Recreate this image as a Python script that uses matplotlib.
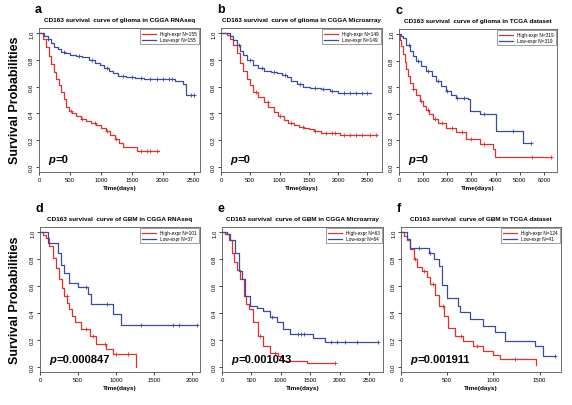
import matplotlib
matplotlib.use("Agg")
import matplotlib.pyplot as plt
import numpy as np

plt.rcParams['font.family'] = ['Liberation Sans', 'DejaVu Sans']

RED = '#e0302c'
BLUE = '#3a4a9e'

# ---- data ----
# a: glioma CGGA RNAseq
a_hi_t = [0, 60, 110, 160, 200, 240, 280, 320, 360, 400, 440, 480, 540, 600, 680, 760, 840, 920, 1000, 1080, 1150, 1220, 1290, 1360, 1580]
a_hi_s = [1.0, 0.96, 0.90, 0.83, 0.77, 0.71, 0.66, 0.61, 0.56, 0.51, 0.45, 0.42, 0.40, 0.38, 0.36, 0.34, 0.33, 0.31, 0.29, 0.27, 0.24, 0.21, 0.18, 0.15, 0.12]
a_hi_end = 1930
a_hi_cens = [520, 700, 900, 1100, 1250, 1650, 1750, 1800, 1900]
a_lo_t = [0, 80, 140, 190, 240, 300, 360, 420, 500, 600, 700, 800, 900, 980, 1050, 1130, 1200, 1280, 1400, 1550, 1700, 2200, 2330, 2380]
a_lo_s = [1.0, 0.98, 0.96, 0.93, 0.90, 0.88, 0.86, 0.85, 0.84, 0.83, 0.82, 0.80, 0.78, 0.76, 0.74, 0.72, 0.70, 0.68, 0.67, 0.665, 0.655, 0.645, 0.62, 0.535]
a_lo_end = 2500
a_lo_cens = [150, 400, 650, 850, 1100, 1350, 1500, 1650, 1800, 1900, 2000, 2100, 2150, 2450, 2500]

# b: glioma CGGA Microarray
b_hi_t = [0, 100, 160, 210, 270, 326, 380, 440, 500, 555, 640, 727, 810, 900, 980, 1070, 1150, 1240, 1330, 1413, 1500, 1585, 1700, 2040]
b_hi_s = [1.0, 0.99, 0.96, 0.91, 0.85, 0.78, 0.72, 0.66, 0.61, 0.56, 0.52, 0.485, 0.45, 0.41, 0.38, 0.35, 0.33, 0.31, 0.30, 0.29, 0.28, 0.27, 0.25, 0.235]
b_hi_end = 2670
b_hi_cens = [600, 800, 1000, 1200, 1400, 1600, 1800, 1900, 1950, 2100, 2200, 2300, 2400, 2550, 2650]
b_lo_t = [0, 155, 210, 270, 330, 383, 450, 555, 640, 727, 850, 955, 1050, 1127, 1200, 1300, 1400, 1527, 1700, 1870, 2000]
b_lo_s = [1.0, 0.98, 0.95, 0.91, 0.87, 0.835, 0.80, 0.76, 0.74, 0.72, 0.71, 0.70, 0.69, 0.67, 0.645, 0.62, 0.60, 0.59, 0.58, 0.57, 0.55]
b_lo_end = 2557
b_lo_cens = [300, 500, 700, 900, 1100, 1350, 1600, 1750, 1900, 2100, 2200, 2300, 2400, 2500]

# c: glioma TCGA
c_hi_t = [0, 50, 97, 160, 234, 300, 372, 470, 580, 700, 855, 1000, 1130, 1260, 1400, 1610, 1960, 2370, 2790, 3340, 3890, 3960]
c_hi_s = [1.0, 0.96, 0.91, 0.85, 0.79, 0.74, 0.685, 0.63, 0.585, 0.54, 0.50, 0.46, 0.43, 0.40, 0.36, 0.33, 0.295, 0.26, 0.21, 0.17, 0.13, 0.075]
c_hi_end = 6300
c_hi_cens = [600, 900, 1200, 1500, 1800, 2200, 2600, 3000, 3500, 5500, 6300]
c_lo_t = [0, 100, 165, 300, 440, 580, 717, 900, 1130, 1350, 1545, 1750, 1960, 2150, 2370, 2855, 2925, 3340, 4030, 5130]
c_lo_s = [1.0, 0.99, 0.975, 0.92, 0.875, 0.835, 0.80, 0.76, 0.72, 0.685, 0.65, 0.61, 0.57, 0.545, 0.52, 0.51, 0.42, 0.395, 0.27, 0.18]
c_lo_end = 5480
c_lo_cens = [400, 800, 1200, 1600, 2000, 2400, 2700, 3500, 4700, 5480]

# d: GBM CGGA RNAseq
d_hi_t = [0, 35, 79, 123, 167, 211, 255, 290, 321, 355, 387, 420, 453, 540, 650, 738, 870, 958, 1266]
d_hi_s = [1.0, 0.98, 0.955, 0.895, 0.81, 0.735, 0.65, 0.585, 0.525, 0.475, 0.43, 0.38, 0.33, 0.28, 0.23, 0.17, 0.13, 0.095, 0.0]
d_hi_end = 1266
d_hi_cens = [350, 600, 700, 850, 1000, 1150]
d_lo_t = [0, 101, 233, 277, 321, 387, 497, 628, 672, 958, 1068]
d_lo_s = [1.0, 0.92, 0.845, 0.76, 0.70, 0.625, 0.59, 0.54, 0.465, 0.395, 0.31]
d_lo_end = 2057
d_lo_cens = [600, 880, 1330, 1750, 1830, 2057]

# e: GBM CGGA Microarray
e_hi_t = [0, 56, 113, 169, 210, 254, 310, 367, 410, 451, 536, 621, 705, 818, 959, 1016, 1439]
e_hi_s = [1.0, 0.99, 0.945, 0.845, 0.78, 0.72, 0.65, 0.525, 0.47, 0.43, 0.33, 0.23, 0.155, 0.105, 0.08, 0.045, 0.025]
e_hi_end = 1930
e_hi_cens = [650, 900, 1930]
e_lo_t = [0, 85, 141, 226, 282, 339, 395, 480, 593, 705, 818, 931, 1044, 1157, 1552, 1749]
e_lo_s = [1.0, 0.99, 0.945, 0.845, 0.71, 0.65, 0.525, 0.45, 0.44, 0.415, 0.37, 0.33, 0.28, 0.245, 0.215, 0.185]
e_lo_end = 2652
e_lo_cens = [850, 1300, 1350, 1400, 1850, 1950, 2100, 2300, 2652]

# f: GBM TCGA
f_hi_t = [0, 29, 65, 100, 136, 172, 226, 280, 316, 370, 406, 460, 513, 585, 675, 782, 890, 998, 1070, 1457]
f_hi_s = [1.0, 0.975, 0.94, 0.875, 0.80, 0.74, 0.715, 0.665, 0.615, 0.53, 0.455, 0.38, 0.29, 0.23, 0.19, 0.155, 0.115, 0.09, 0.055, 0.01]
f_hi_end = 1457
f_hi_cens = [150, 250, 350, 450, 650, 820, 1230]
f_lo_t = [0, 65, 100, 298, 352, 406, 441, 495, 621, 639, 747, 890, 1016, 1124, 1447, 1536]
f_lo_s = [1.0, 0.95, 0.88, 0.85, 0.80, 0.75, 0.605, 0.51, 0.455, 0.405, 0.355, 0.305, 0.255, 0.19, 0.155, 0.08]
f_lo_end = 1662
f_lo_cens = [200, 310, 1662]

panels = [
    ('a', 'CD163 survival  curve of glioma in CGGA RNAseq', 155, 155, 'p=0', 2600, [0, 500, 1000, 1500, 2000, 2500],
     (a_hi_t, a_hi_s, a_hi_end, a_hi_cens), (a_lo_t, a_lo_s, a_lo_end, a_lo_cens)),
    ('b', 'CD163 survival  curve of glioma in CGGA Microarray', 149, 149, 'p=0', 2750, [0, 500, 1000, 1500, 2000, 2500],
     (b_hi_t, b_hi_s, b_hi_end, b_hi_cens), (b_lo_t, b_lo_s, b_lo_end, b_lo_cens)),
    ('c', 'CD163 survival  curve of glioma in TCGA dataset', 319, 319, 'p=0', 6540, [0, 1000, 2000, 3000, 4000, 5000, 6000],
     (c_hi_t, c_hi_s, c_hi_end, c_hi_cens), (c_lo_t, c_lo_s, c_lo_end, c_lo_cens)),
    ('d', 'CD163 survival  curve of GBM in CGGA RNAseq', 101, 37, 'p=0.000847', 2100, [0, 500, 1000, 1500, 2000],
     (d_hi_t, d_hi_s, d_hi_end, d_hi_cens), (d_lo_t, d_lo_s, d_lo_end, d_lo_cens)),
    ('e', 'CD163 survival  curve of GBM in CGGA Microarray', 63, 64, 'p=0.001043', 2740, [0, 500, 1000, 1500, 2000, 2500],
     (e_hi_t, e_hi_s, e_hi_end, e_hi_cens), (e_lo_t, e_lo_s, e_lo_end, e_lo_cens)),
    ('f', 'CD163 survival  curve of GBM in TCGA dataset', 124, 41, 'p=0.001911', 1730, [0, 500, 1000, 1500],
     (f_hi_t, f_hi_s, f_hi_end, f_hi_cens), (f_lo_t, f_lo_s, f_lo_end, f_lo_cens)),
]

# axes boxes in pixels: left, right, top, bottom
W, H = 572, 406
boxes = [(39, 200, 29, 173), (221, 382, 29, 173), (399, 557, 30, 173),
         (40, 200, 228, 373), (222, 383, 228, 373), (401, 561, 228, 373)]


def km(ax, t, s, t_end, cens, color, label):
    tt = list(t) + [t_end]
    ss = list(s) + [s[-1]]
    ax.step(tt, ss, where='post', color=color, lw=0.9, label=label)
    idx = np.searchsorted(t, cens, side='right') - 1
    ax.plot(cens, np.array(s)[idx], '+', color=color, ms=3, mew=0.6)


fig = plt.figure(figsize=(W / 100, H / 100), dpi=100)

for (letter, title, n_hi, n_lo, ptxt, xmax, xt, hi, lo), (l, r, t, b) in zip(panels, boxes):
    ax = fig.add_axes([l / W, 1 - b / H, (r - l) / W, (b - t) / H])
    km(ax, *hi, RED, 'High-expr N=%d' % n_hi)
    km(ax, *lo, BLUE, 'Low-expr N=%d' % n_lo)
    ax.set_xlim(0, xmax)
    ax.set_ylim(-0.04, 1.04)
    ax.set_xticks(xt)
    ax.set_yticks([0.0, 0.2, 0.4, 0.6, 0.8, 1.0])
    ax.set_yticklabels(['0.0', '0.2', '0.4', '0.6', '0.8', '1.0'], rotation=90, va='center')
    ax.tick_params(labelsize=4.3, length=2, width=0.5, pad=1.5)
    for sp in ax.spines.values():
        sp.set_linewidth(0.6)
        sp.set_color('#555555')
    ax.set_title(title, fontsize=4.6, fontweight='bold', pad=5)
    ax.set_xlabel('Time(days)', fontsize=4.6, fontweight='bold', labelpad=2)
    leg = ax.legend(loc='upper right', fontsize=3.4, handlelength=3, frameon=True, fancybox=False,
                    borderpad=0.4, labelspacing=0.2, borderaxespad=0.3)
    leg.get_frame().set_edgecolor('#555555')
    leg.get_frame().set_linewidth(0.5)
    ptext = ax.text(0.06, 0.09, 'p', transform=ax.transAxes, fontsize=8, fontweight='bold',
                    fontstyle='italic', va='center')
    ax.annotate(ptxt[1:], xy=(1, 0.5), xycoords=ptext, fontsize=8, fontweight='bold', va='center')
    fig.text((l - 4) / W, 1 - (t - 19) / H, letter, fontsize=9, fontweight='bold', va='center')

fig.text(15 / W, 1 - 100 / H, 'Survival Probabilities', rotation=90, fontsize=9,
         fontweight='bold', ha='center', va='center')
fig.text(15 / W, 1 - 300 / H, 'Survival Probabilities', rotation=90, fontsize=9,
         fontweight='bold', ha='center', va='center')

fig.savefig('out.png', dpi=100)
